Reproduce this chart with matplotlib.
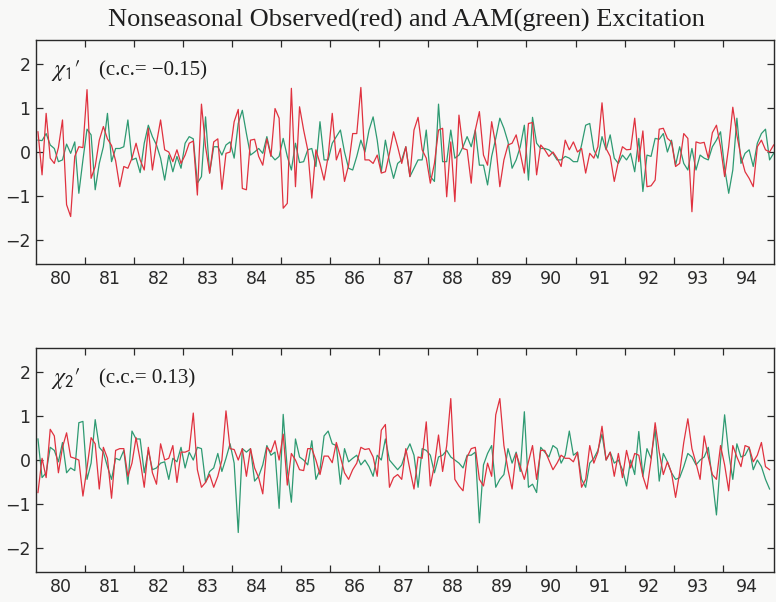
import numpy as np
import matplotlib
matplotlib.use("Agg")
import matplotlib.pyplot as plt
from matplotlib.ticker import FixedLocator, NullFormatter, FixedFormatter

# Monthly nonseasonal excitation, starting January 1980
start_year = 1980.04

chi1_observed = [
    0.46, -0.52, 0.88, -0.14, -0.26, 0.1, 0.73, -1.2, -1.47, -0.1,
    0.12, 0.1, 1.42, -0.6, -0.33, 0.27, 0.58, 0.3, 0.15, -0.2,
    -0.79, -0.33, -0.37, -0.14, 0.2, -0.18, -0.41, 0.54, -0.41, 0.2,
    0.73, 0.05, 0.0, -0.22, 0.05, -0.26, -0.07, 0.2, 0.25, -0.98,
    1.09, 0.12, -0.48, 0.23,
    0.3, -0.85, -0.03, 0.0, 0.69, 0.97, -0.83, -0.86, 0.27, 0.29,
    -0.1, -0.3, 0.3, -0.1, 0.99, 0.77, -1.28, -1.17, 1.45, -0.79,
    1.03, 0.5, 0.05, -1.05, 0.05, -0.26, -0.64, -0.1, 0.88, -0.18,
    0.08, -0.67, -0.3, 0.42, 0.42, 1.47, -0.18, -0.18, -0.26, -0.07,
    -0.48, -0.45, -0.03, 0.46, 0.12, -0.26, 0.12, -0.56,
    0.5, 0.79, 0.05, -0.14, -0.71, -0.26, 0.5, 0.54, -1.02, 0.23,
    -1.13, 0.84, 0.08, 0.05, -0.71, 0.5, 0.92, -0.07, -0.3, 0.69,
    0.16, -0.79, -0.18, 0.16, 0.2, 0.39, -0.03, -0.48, 0.65, 0.67,
    -0.52, 0.16, 0.05, -0.1, 0.0, -0.14, -0.33, 0.27, 0.05, 0.23,
    0.0, 0.08, -0.48, -0.03, -0.14,
    0.12, 1.12, 0.08, -0.1, -0.67, -0.22, 0.12, 0.05, 0.06, 0.77,
    -0.22, 0.48, -0.79, -0.77, -0.64, 0.52, 0.54, 0.31, 0.23, -0.33,
    -0.26, 0.42, 0.31, -1.36, 0.23, 0.2, 0.22, -0.14, 0.44, 0.61,
    0.12, -0.56, 0.12, 1.02, 0.38, -0.1, -0.45, -0.6, -0.79, 0.12,
    0.27, 0.05, 0.0, 0.16,
]

chi1_aam = [
    0.27, 0.26, 0.42, 0.16, 0.08, -0.22, -0.18, 0.18, -0.03, 0.23,
    -0.94, -0.18, 0.52, 0.39, -0.86, -0.26, 0.12, 0.88, -0.22, 0.08,
    0.08, 0.12, 0.73, -0.18, -0.14, -0.47, 0.2, 0.61, 0.35, 0.16,
    -0.14, -0.64, -0.07, -0.45, -0.1, -0.37, 0.2, 0.35, 0.3, -0.71,
    -0.56, 0.8, -0.48, 0.12,
    0.12, -0.07, 0.16, 0.23, -0.14, 0.65, 0.95, 0.42, -0.07, 0.0,
    0.08, -0.03, 0.35, -0.07, -0.18, -0.1, 0.31, -0.1, -0.41, 0.2,
    -0.24, -0.22, 0.05, 0.08, -0.33, 0.69, -0.18, -0.18, 0.2, 0.35,
    0.5, 0.0, -0.37, -0.41, -0.1, 0.27, 0.0, 0.5, 0.8, 0.27,
    -0.45, 0.27, -0.22, -0.6, -0.26, -0.18, 0.12, -0.56,
    -0.37, -0.18, -0.18, 0.5, -0.56, -0.67, 1.09, -0.22, -0.22, 0.5,
    -0.14, -0.07, 0.12, 0.35, 0.12, 0.5, -0.3, -0.3, -0.75, -0.1,
    0.31, 0.77, 0.54, 0.23, -0.37, -0.18, 0.12, 0.61, -0.64, 0.79,
    0.2, 0.08, 0.08, 0.05, -0.03, -0.18, -0.18, -0.1, -0.14, -0.22,
    -0.22, 0.16, 0.61, 0.65, 0.05,
    -0.14, 0.35, 0.05, 0.39, -0.14, -0.26, -0.07, -0.18, -0.03, -0.45,
    0.31, -0.9, -0.07, -0.1, 0.31, 0.29, 0.42, 0.0, 0.27, -0.3,
    0.12, -0.26, -0.41, 0.08, -0.41, -0.07, -0.14, -0.18, 0.12, 0.27,
    0.46, -0.37, -0.94, -0.41, 0.77, -0.26, -0.03, 0.05, -0.33, 0.2,
    0.42, 0.52, -0.18, -0.03,
]

chi2_observed = [
    -0.74, 0.04, -0.4, 0.7, 0.55, -0.29, 0.29, 0.62, 0.07, 0.04,
    0.0, -0.82, -0.18, 0.51, 0.37, -0.66, 0.29, 0.04, -0.87, 0.22,
    0.26, 0.26, -0.37, -0.07, 0.51, 0.0, -0.62, 0.29, -0.29, -0.55,
    0.37, 0.0, 0.04, 0.33, -0.51, 0.18, 0.18, 0.22, 1.07, -0.22,
    -0.62, -0.51, -0.33, -0.62,
    -0.37, 0.0, 1.12, 0.26, 0.24, 0.0, 0.26, -0.37, 0.26, -0.18,
    -0.4, -0.77, 0.29, 0.18, 0.44, 0.0, 0.59, -0.57, 0.15, 0.0,
    -0.22, -0.24, 0.26, 0.26, 0.0, -0.33, 0.09, 0.09, -0.06, 0.4,
    0.07, -0.29, -0.44, -0.22, -0.07, 0.29, 0.24, 0.26, 0.07, -0.37,
    0.68, 0.81, -0.62, -0.4, -0.33, -0.44, 0.26,
    -0.22, -0.66, 0.07, 0.04, 0.87, -0.59, -0.11, 0.57, -0.26, 0.33,
    1.4, -0.44, -0.59, -0.7, 0.07, 0.26, 0.29, -0.44, -0.59, -0.07,
    -0.37, 1.03, 1.4, 0.33, -0.22, -0.66, 0.15, -0.15, -0.44, -0.04,
    0.33, -0.44, 0.22, 0.22, 0.0, -0.22, -0.07, 0.11, 0.04, 0.04,
    -0.04, 0.18, -0.62, -0.44, 0.33,
    -0.07, 0.18, 0.77, 0.0, 0.18, -0.37, 0.15, -0.4, 0.22, -0.18,
    0.15, 0.11, -0.37, -0.66, 0.0, 0.85, 0.18, -0.33, -0.04, -0.29,
    -0.85, -0.29, 0.4, 0.94, 0.26, -0.07, -0.44, 0.55, 0.07, -0.33,
    -0.44, 0.33, -0.11, -0.7, 0.33, 0.07, -0.15, 0.33, 0.29, -0.04,
    0.11, 0.4, -0.15, -0.22,
]

chi2_aam = [
    0.48, -0.4, -0.29, 0.29, 0.22, -0.04, 0.4, -0.29, -0.18, -0.24,
    0.85, 0.88, -0.44, -0.07, 0.92, 0.29, 0.18, -0.15, -0.44, 0.04,
    0.0, 0.22, -0.55, 0.66, 0.48, 0.48, -0.29, 0.22, -0.22, -0.18,
    -0.07, -0.04, -0.44, 0.04, -0.04, 0.29, -0.18, 0.18, 0.0, 0.29,
    0.26, -0.51, -0.26, -0.18,
    0.15, -0.26, 0.04, 0.37, -0.07, -1.65, 0.26, 0.18, 0.26, -0.48,
    -0.37, -0.11, 0.33, 0.11, 0.18, -1.1, 1.04, -0.22, -0.96, 0.48,
    0.07, 0.0, -0.11, 0.44, -0.44, -0.22, 0.55, 0.66, 0.37, 0.33,
    -0.55, 0.26, -0.04, 0.04, 0.11, -0.11, 0.0, -0.15, -0.37, 0.11,
    0.0, 0.48, 0.0, -0.11, -0.22, -0.11, 0.18,
    0.37, 0.11, -0.62, 0.26, 0.22, 0.11, -0.29, 0.07, 0.11, 0.22,
    0.07, 0.0, -0.07, -0.18, 0.11, 0.11, 0.18, -1.43, -0.11, 0.15,
    0.33, -0.62, -0.44, -0.33, 0.26, -0.07, 0.18, -0.26, 1.1, -0.62,
    -0.55, -0.74, 0.29, 0.18, 0.07, 0.33, 0.26, -0.07, 0.11, 0.66,
    0.11, 0.18, -0.44, -0.62, -0.07,
    0.04, 0.22, 0.59, 0.0, 0.18, -0.07, 0.0, -0.22, -0.59, 0.0,
    -0.33, 0.65, -0.37, 0.26, 0.04, 0.7, -0.48, 0.15, -0.04, -0.29,
    -0.44, -0.4, -0.15, 0.15, 0.07, -0.11, 0.0, 0.07, 0.29, -0.44,
    -1.25, 0.0, 1.03, 0.15, -0.44, 0.37, 0.07, 0.11, 0.29, -0.22,
    0.0, -0.15, -0.44, -0.66,
]

year_labels = [str(y) for y in range(80, 95)]
panel_labels = [r"$\chi_{\mathsf{1}}\prime$", r"$\chi_{\mathsf{2}}\prime$"]
cc_labels = ["(c.c.= \u22120.15)", "(c.c.= 0.13)"]

title = "Nonseasonal Observed(red) and AAM(green) Excitation"

RED = "#e0323f"
GREEN = "#2e9a72"
BG = "#f8f8f7"
INK = "#2a2a2a"
SERIF = ["Liberation Serif", "DejaVu Serif"]

plt.rcParams["font.family"] = ["DejaVu Sans"]
plt.rcParams["mathtext.fontset"] = "stix"

fig = plt.figure(figsize=(7.76, 6.02), dpi=100, facecolor=BG)

fig.text(0.524, 0.966, title, ha="center", va="center",
         fontsize=19, family=SERIF, color="#1e1e1e")

panels = [
    (chi1_observed, chi1_aam, [0.0464, 0.5615, 0.9506, 0.372]),
    (chi2_observed, chi2_aam, [0.0464, 0.0498, 0.9506, 0.372]),
]

for idx, (obs, aam, rect) in enumerate(panels):
    ax = fig.add_axes(rect, facecolor=BG)
    x_obs = start_year + np.arange(len(obs)) / 12.0
    x_aam = start_year + np.arange(len(aam)) / 12.0
    ax.plot(x_aam, aam, color=GREEN, lw=0.9)
    ax.plot(x_obs, obs, color=RED, lw=0.9)

    ax.set_xlim(1980.0, 1995.04)
    ax.set_ylim(-2.55, 2.55)

    # year boundaries carry tick marks, year labels sit mid-year
    ax.xaxis.set_major_locator(FixedLocator(np.arange(1981, 1995)))
    ax.xaxis.set_major_formatter(NullFormatter())
    ax.xaxis.set_minor_locator(FixedLocator(np.arange(1980.5, 1995.0, 1.0)))
    ax.xaxis.set_minor_formatter(FixedFormatter(year_labels))
    ax.tick_params(axis="x", which="major", direction="in", length=5,
                   width=0.9, top=True, bottom=True, color=INK)
    ax.tick_params(axis="x", which="minor", length=0, pad=4,
                   labelsize=12.5, labelcolor=INK)

    ax.set_yticks([-2, -1, 0, 1, 2])
    ax.set_yticklabels(["\u22122", "\u22121", "0", "1", "2"])
    ax.tick_params(axis="y", direction="in", length=5, width=0.9,
                   left=True, right=True, labelsize=12.5, pad=4,
                   color=INK, labelcolor=INK)

    for sp in ax.spines.values():
        sp.set_linewidth(1.0)
        sp.set_color(INK)

    ax.text(0.02, 0.862, panel_labels[idx], transform=ax.transAxes,
            fontsize=17, color="#1e1e1e", va="center", ha="left")
    ax.text(0.086, 0.862, cc_labels[idx], transform=ax.transAxes,
            fontsize=15, family=SERIF, color="#1e1e1e",
            va="center", ha="left")

fig.savefig("out.png", dpi=100, facecolor=BG)
